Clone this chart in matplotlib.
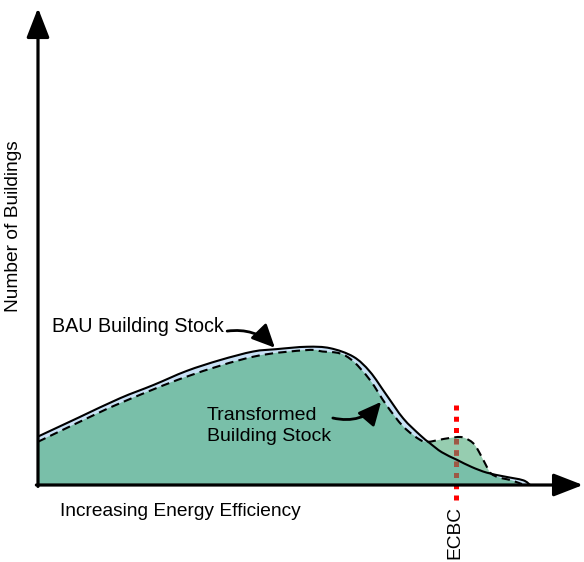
import numpy as np
import matplotlib.pyplot as plt
from matplotlib.path import Path
from matplotlib.patches import PathPatch, FancyArrowPatch

plt.rcParams['font.family'] = ['Liberation Sans', 'DejaVu Sans']

# BAU building stock curve (solid)
bau_x = [0, 7.5, 15.1, 21.3, 27.4, 33.6, 39.7, 44.0, 49.6, 53.9, 58.2, 61.25, 64.3, 67.4, 70.5,
         72.3, 74.5, 77.3, 80, 82.8, 86, 89.5, 90.8]
bau_y = [10.2, 14.2, 18.25, 21.05, 24.0, 26.3, 28.1, 28.6, 29.1, 28.8, 27.0, 23.85, 18.95, 14.0, 10.5,
         8.8, 6.9, 5.3, 3.8, 2.6, 1.8, 1.0, 0]

# Transformed building stock curve (dashed)
tr_x = [0, 7.5, 15.1, 27.4, 39.7, 49.6, 52.5, 55.7, 58.2, 61.25, 64.3, 67.4, 70.5, 72, 74, 76,
        78.3, 80.3, 81.5, 82.8, 83.6, 85, 87.1, 89.3]
tr_y = [9.1, 13.2, 17.2, 22.8, 27.0, 28.4, 28.1, 27.7, 26.0, 22.1, 16.8, 12.3, 9.5, 9.1, 9.5, 9.9,
        10.05, 8.8, 6.7, 3.85, 2.4, 1.6, 1.05, 0.2]

ecbc_position = 77.2


def smooth_path(xs, ys, close=False):
    # Catmull-Rom through the points, written as cubic bezier segments
    pts = np.column_stack([xs, ys]).astype(float)
    n = len(pts)
    verts = [pts[0]]
    codes = [Path.MOVETO]
    for i in range(n - 1):
        p0 = pts[max(i - 1, 0)]
        p1 = pts[i]
        p2 = pts[i + 1]
        p3 = pts[min(i + 2, n - 1)]
        verts += [p1 + (p2 - p0) / 6, p2 - (p3 - p1) / 6, p2]
        codes += [Path.CURVE4] * 3
    if close:
        verts += [(xs[-1], 0), (xs[0], 0), (xs[0], 0)]
        codes += [Path.LINETO, Path.LINETO, Path.CLOSEPOLY]
    return Path(verts, codes)


fig = plt.figure(figsize=(5.84, 5.62), dpi=100)
ax = fig.add_axes([0, 0, 1, 1])
ax.set_xlim(-7.01, 100.74)
ax.set_ylim(-16.21, 102.1)
ax.axis('off')

bau_area = smooth_path(bau_x, bau_y, close=True)
tr_area = smooth_path(tr_x, tr_y, close=True)

ax.add_patch(PathPatch(bau_area, facecolor='#c8e1f5', lw=0, zorder=1))
ax.add_patch(PathPatch(tr_area, facecolor='#96cdb0', lw=0, zorder=2))
inner = ax.add_patch(PathPatch(bau_area, facecolor='#79bfa9', lw=0, zorder=3))
inner.set_clip_path(PathPatch(tr_area, transform=ax.transData))

# ECBC line: red outside, brownish where it sits under the fill
ax.plot([ecbc_position, ecbc_position], [-3.2, 17.9], color='#ff0000', lw=3.6,
        linestyle=(0, (1, 1.25)), dash_capstyle='butt', zorder=4)
under = ax.plot([ecbc_position, ecbc_position], [-3.2, 17.9], color='#9c5a46', lw=3.6,
                linestyle=(0, (1, 1.25)), dash_capstyle='butt', zorder=4.5)[0]
under.set_clip_path(PathPatch(tr_area, transform=ax.transData))

ax.add_patch(PathPatch(smooth_path(bau_x, bau_y), fill=False, edgecolor='black', lw=1.5, zorder=5))
ax.add_patch(PathPatch(smooth_path(tr_x, tr_y), fill=False, edgecolor='black', lw=1.5,
                       linestyle=(0, (4, 2.5)), zorder=5))

# axes with arrow heads
axis_style = dict(arrowstyle='-|>,head_length=0.9,head_width=0.35', color='black',
                  lw=2.3, shrinkA=0, shrinkB=0, mutation_scale=20)
ax.annotate('', xy=(100.55, 0), xytext=(-0.3, 0), arrowprops=axis_style, zorder=6)
ax.annotate('', xy=(0, 100.4), xytext=(0, -0.3), arrowprops=axis_style, zorder=6)

# labels
fs = 13.8
ax.text(4.06, -5.68, 'Increasing Energy Efficiency', fontsize=fs, ha='left', va='center')
ax.text(-4.6, 54.5, 'Number of Buildings', fontsize=fs, ha='center', va='center', rotation=90)
ax.text(ecbc_position - 0.3, -10.0, 'ECBC', fontsize=fs, ha='center', va='center', rotation=90)
ax.text(2.58, 33.3, 'BAU Building Stock', fontsize=14.2, ha='left', va='center', zorder=7)
ax.text(31.2, 12.4, 'Transformed\nBuilding Stock', fontsize=14, ha='left', va='center',
        linespacing=1.3, zorder=7)

# callout arrows
arrow_style = '-|>,head_length=0.7,head_width=0.33'
ax.add_patch(FancyArrowPatch((34.9, 32.4), (43.7, 28.9), arrowstyle=arrow_style,
                             connectionstyle='arc3,rad=-0.25', color='black', lw=2,
                             mutation_scale=20, shrinkA=0, shrinkB=0, zorder=7))
ax.add_patch(FancyArrowPatch((54.4, 14.1), (63.3, 17.5), arrowstyle=arrow_style,
                             connectionstyle='arc3,rad=0.3', color='black', lw=2,
                             mutation_scale=20, shrinkA=0, shrinkB=0, zorder=7))

fig.savefig('out.png', dpi=100)
